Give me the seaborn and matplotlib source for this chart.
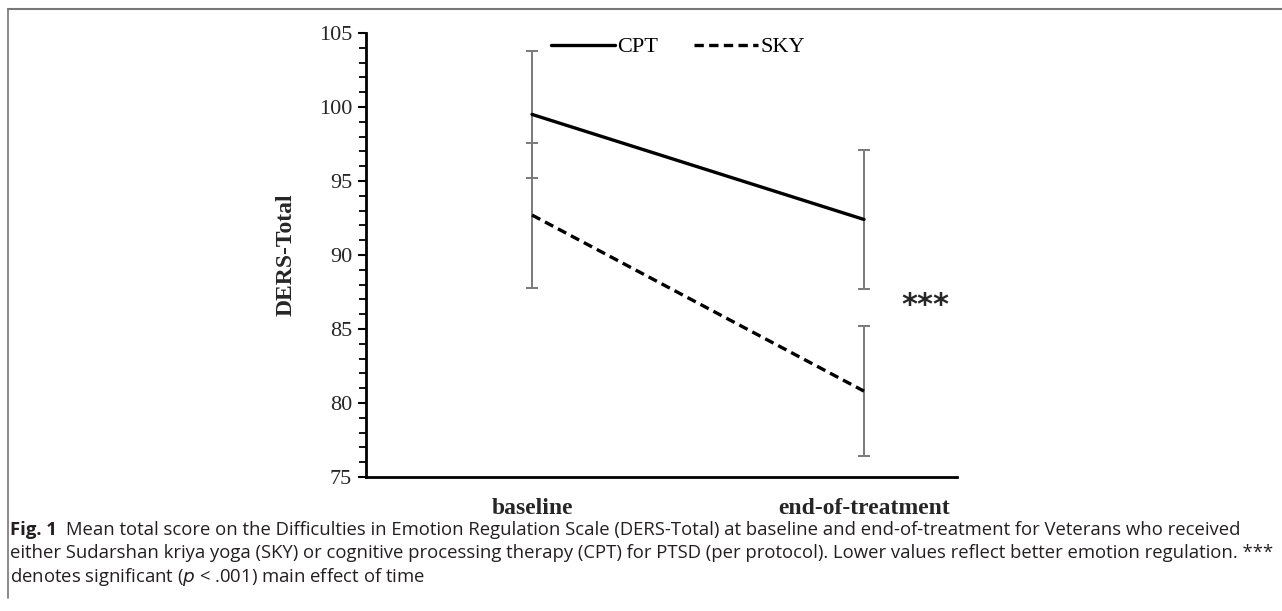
import matplotlib
matplotlib.use("Agg")
import matplotlib.pyplot as plt
import seaborn as sns
import pandas as pd
import numpy as np

# ---- data ----
timepoints = ["baseline", "end-of-treatment"]
groups = ["CPT", "SKY"]
cpt_mean = [99.5, 92.4]
cpt_err = [4.3, 4.7]
sky_mean = [92.7, 80.8]
sky_err = [4.9, 4.4]
y_ticks = [75, 80, 85, 90, 95, 100, 105]

sns.set_theme(style="white")
plt.rcParams["font.family"] = ["Liberation Serif", "DejaVu Serif"]

df = pd.DataFrame({
    "time": [0, 1, 0, 1],
    "score": cpt_mean + sky_mean,
    "group": ["CPT", "CPT", "SKY", "SKY"],
})

fig = plt.figure(figsize=(12.82, 6.11), dpi=100)
ax = fig.add_axes([366 / 1282, 1 - 477 / 611, (957 - 366) / 1282, (477 - 33) / 611])

# error bars
for means, errs in [(cpt_mean, cpt_err), (sky_mean, sky_err)]:
    ax.errorbar([0, 1], means, yerr=errs, fmt="none", ecolor="#7a7a7a",
                elinewidth=1.4, capsize=4, capthick=1.4, zorder=1)

sns.lineplot(data=df, x="time", y="score", hue="group", style="group",
             palette={"CPT": "black", "SKY": "black"},
             dashes={"CPT": "", "SKY": (2.8, 1.6)},
             linewidth=2.4, ax=ax, zorder=3, legend=True)

ax.set_xlim(-0.5, 1.28)
ax.set_ylim(75, 105)
ax.set_yticks(y_ticks)
ax.set_yticks(np.arange(75, 106, 1), minor=True)
ax.set_xticks([0, 1])
ax.set_xticklabels(timepoints, fontsize=17, fontweight="bold")
ax.tick_params(axis="x", length=0, pad=15)
ax.tick_params(axis="y", which="major", direction="out", length=6, width=1.5,
               labelsize=16, color="black", left=True, pad=4)
ax.tick_params(axis="y", which="minor", direction="out", length=5, width=1.3,
               color="black", left=True)
for s in ["top", "right"]:
    ax.spines[s].set_visible(False)
for s in ["left", "bottom"]:
    ax.spines[s].set_color("black")
    ax.spines[s].set_linewidth(2)
ax.set_xlabel("")
ax.set_ylabel("DERS-Total", fontsize=17, fontweight="bold", labelpad=16)
ax.grid(False)

leg = ax.legend(loc="center", bbox_to_anchor=(0.528, 0.968), ncol=2,
                frameon=False, fontsize=16, handlelength=2.9, handletextpad=0.1,
                columnspacing=1.6)
for t in leg.get_texts():
    t.set_color("black")

ax.text(1.185, 86.6, "***", fontsize=22, fontweight="bold", ha="center",
        va="center", family=["DejaVu Sans"])

# ---- caption ----
cap_font = ["Open Sans", "DejaVu Sans"]
cap_col = "#231f20"
cap_size = 13.3
x0 = 10 / 1282
fig_lbl = fig.text(x0, 1 - 530 / 611, "Fig. 1", fontsize=cap_size, va="center",
                   family=cap_font, fontweight="bold", color=cap_col)
fig.canvas.draw()
bb = fig_lbl.get_window_extent(renderer=fig.canvas.get_renderer())
x1 = (bb.x1 + 9) / fig.bbox.width
fig.text(x1, 1 - 530 / 611,
         "Mean total score on the Difficulties in Emotion Regulation Scale (DERS-Total) at baseline and end-of-treatment for Veterans who received",
         fontsize=cap_size, va="center", family=cap_font, color=cap_col)
fig.text(x0, 1 - 553 / 611,
         "either Sudarshan kriya yoga (SKY) or cognitive processing therapy (CPT) for PTSD (per protocol). Lower values reflect better emotion regulation. ***",
         fontsize=cap_size, va="center", family=cap_font, color=cap_col)
fig.text(x0, 1 - 577 / 611,
         "denotes significant ($\\it{p}$ < .001) main effect of time",
         fontsize=cap_size, va="center", family=cap_font, color=cap_col)

# frame
fig.lines.append(plt.Line2D([8 / 1282, 1.0], [1 - 9 / 611] * 2, transform=fig.transFigure,
                            color="#777777", lw=1.5))
fig.lines.append(plt.Line2D([8 / 1282, 8 / 1282], [1 - 9 / 611, 1 - 598 / 611],
                            transform=fig.transFigure, color="#777777", lw=1.2))

fig.savefig("out.png", dpi=100)
